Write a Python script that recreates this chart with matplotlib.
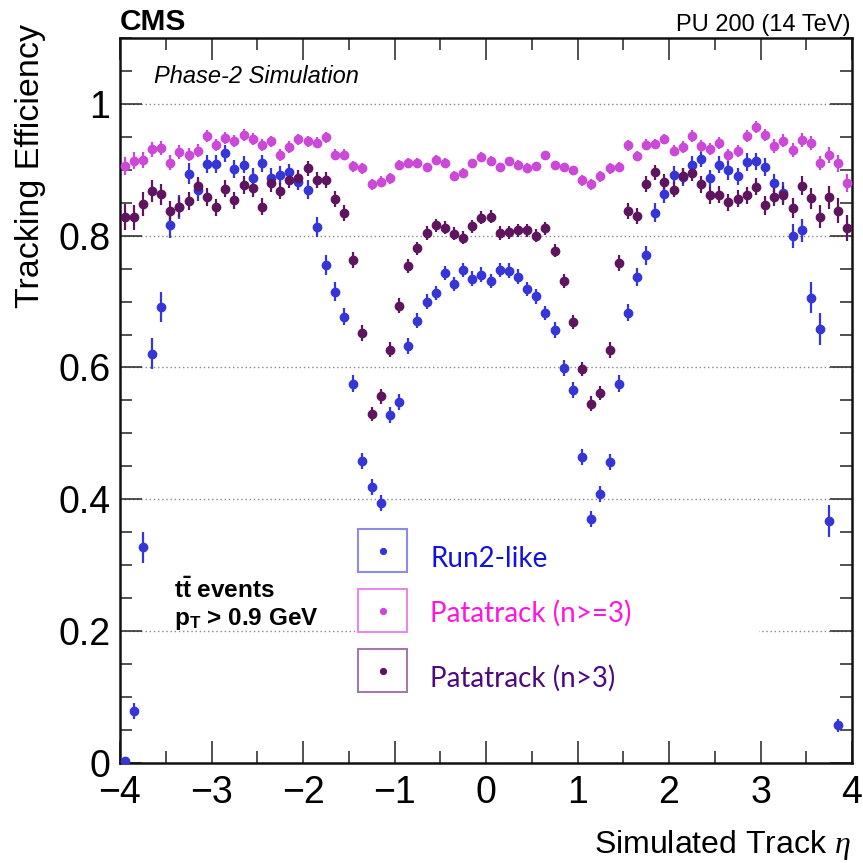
import numpy as np
import matplotlib
matplotlib.use("Agg")
import matplotlib.pyplot as plt
from matplotlib.patches import Rectangle
from matplotlib.ticker import MultipleLocator, FuncFormatter

plt.rcParams["font.family"] = ["Liberation Sans", "DejaVu Sans"]
plt.rcParams["mathtext.fontset"] = "custom"
plt.rcParams["mathtext.rm"] = "Liberation Sans"
plt.rcParams["mathtext.bf"] = "Liberation Sans:bold"
plt.rcParams["mathtext.it"] = "Liberation Serif:italic"

# eta binning: 80 bins of width 0.1 between -4 and 4
eta_edges = np.linspace(-4.0, 4.0, 81)
eta = 0.5 * (eta_edges[:-1] + eta_edges[1:])

series_names = ["Run2-like", "Patatrack (n>=3)", "Patatrack (n>3)"]

eff_run2 = [
    0.003, 0.079, 0.327, 0.621, 0.692, 0.816, 0.843, 0.894, 0.869, 0.909,
    0.909, 0.925, 0.901, 0.908, 0.888, 0.910, 0.888, 0.892, 0.896, 0.882,
    0.870, 0.813, 0.756, 0.715, 0.677, 0.575, 0.458, 0.418, 0.394, 0.528,
    0.548, 0.632, 0.671, 0.700, 0.713, 0.743, 0.727, 0.748, 0.735, 0.741,
    0.731, 0.748, 0.747, 0.738, 0.719, 0.708, 0.683, 0.657, 0.599, 0.566,
    0.464, 0.370, 0.408, 0.457, 0.575, 0.683, 0.737, 0.770, 0.835, 0.864,
    0.892, 0.889, 0.908, 0.917, 0.887, 0.908, 0.899, 0.890, 0.912, 0.913,
    0.904, 0.880, 0.865, 0.799, 0.808, 0.706, 0.658, 0.367, 0.057, np.nan,
]
err_run2 = [
    0.003, 0.012, 0.024, 0.023, 0.023, 0.020, 0.018, 0.016, 0.016, 0.014,
    0.014, 0.013, 0.014, 0.013, 0.014, 0.013, 0.014, 0.013, 0.013, 0.013,
    0.014, 0.015, 0.015, 0.014, 0.013, 0.013, 0.012, 0.012, 0.012, 0.012,
    0.012, 0.012, 0.011, 0.011, 0.011, 0.011, 0.011, 0.011, 0.011, 0.011,
    0.011, 0.011, 0.011, 0.011, 0.011, 0.011, 0.011, 0.012, 0.012, 0.012,
    0.012, 0.012, 0.012, 0.012, 0.013, 0.013, 0.014, 0.015, 0.015, 0.014,
    0.013, 0.013, 0.013, 0.013, 0.013, 0.013, 0.014, 0.013, 0.014, 0.013,
    0.014, 0.014, 0.016, 0.018, 0.018, 0.023, 0.024, 0.025, 0.010, 0.0,
]

eff_pata3 = [
    0.906, 0.914, 0.915, 0.931, 0.933, 0.911, 0.927, 0.923, 0.929, 0.951,
    0.937, 0.948, 0.944, 0.953, 0.947, 0.938, 0.943, 0.922, 0.934, 0.946,
    0.943, 0.941, 0.949, 0.923, 0.923, 0.905, 0.902, 0.878, 0.882, 0.887,
    0.908, 0.911, 0.911, 0.904, 0.915, 0.911, 0.891, 0.895, 0.910, 0.920,
    0.914, 0.904, 0.913, 0.908, 0.903, 0.905, 0.922, 0.907, 0.904, 0.899,
    0.884, 0.878, 0.890, 0.902, 0.904, 0.937, 0.921, 0.938, 0.939, 0.947,
    0.929, 0.935, 0.951, 0.936, 0.932, 0.941, 0.922, 0.929, 0.951, 0.965,
    0.953, 0.936, 0.944, 0.930, 0.945, 0.941, 0.910, 0.922, 0.910, 0.880,
]
err_pata3 = [
    0.014, 0.013, 0.012, 0.011, 0.011, 0.011, 0.010, 0.010, 0.010, 0.009,
    0.009, 0.009, 0.009, 0.009, 0.009, 0.009, 0.009, 0.009, 0.009, 0.008,
    0.008, 0.008, 0.008, 0.008, 0.008, 0.008, 0.008, 0.008, 0.008, 0.008,
    0.007, 0.007, 0.007, 0.007, 0.007, 0.007, 0.007, 0.007, 0.007, 0.007,
    0.007, 0.007, 0.007, 0.007, 0.007, 0.007, 0.007, 0.007, 0.007, 0.007,
    0.008, 0.008, 0.008, 0.008, 0.008, 0.008, 0.008, 0.008, 0.008, 0.008,
    0.008, 0.009, 0.009, 0.009, 0.009, 0.009, 0.009, 0.009, 0.009, 0.009,
    0.009, 0.010, 0.010, 0.010, 0.011, 0.011, 0.011, 0.012, 0.013, 0.014,
]

eff_pata4 = [
    0.828, 0.828, 0.848, 0.868, 0.863, 0.837, 0.843, 0.853, 0.875, 0.859,
    0.843, 0.871, 0.854, 0.877, 0.872, 0.844, 0.880, 0.868, 0.884, 0.888,
    0.902, 0.884, 0.884, 0.856, 0.834, 0.763, 0.652, 0.529, 0.556, 0.627,
    0.694, 0.754, 0.781, 0.804, 0.816, 0.812, 0.803, 0.797, 0.814, 0.827,
    0.829, 0.804, 0.805, 0.808, 0.808, 0.800, 0.811, 0.777, 0.731, 0.669,
    0.598, 0.545, 0.561, 0.627, 0.759, 0.838, 0.830, 0.879, 0.896, 0.882,
    0.870, 0.890, 0.895, 0.878, 0.861, 0.862, 0.851, 0.856, 0.861, 0.874,
    0.846, 0.859, 0.861, 0.842, 0.876, 0.857, 0.829, 0.858, 0.838, 0.812,
]
err_pata4 = [
    0.020, 0.019, 0.018, 0.017, 0.016, 0.015, 0.015, 0.014, 0.014, 0.014,
    0.013, 0.013, 0.013, 0.013, 0.013, 0.013, 0.013, 0.012, 0.012, 0.012,
    0.012, 0.012, 0.012, 0.012, 0.012, 0.012, 0.012, 0.011, 0.011, 0.011,
    0.011, 0.011, 0.010, 0.010, 0.010, 0.010, 0.010, 0.010, 0.010, 0.010,
    0.010, 0.010, 0.010, 0.010, 0.010, 0.010, 0.010, 0.010, 0.011, 0.011,
    0.011, 0.011, 0.011, 0.012, 0.012, 0.012, 0.012, 0.012, 0.012, 0.012,
    0.012, 0.012, 0.012, 0.013, 0.013, 0.013, 0.013, 0.013, 0.013, 0.013,
    0.014, 0.014, 0.014, 0.015, 0.015, 0.016, 0.017, 0.018, 0.019, 0.020,
]

marker_colors = ["#3535d8", "#cc48d8", "#5e145e"]
text_colors = ["#1212dd", "#ff14e0", "#4b0b7d"]
box_colors = ["#8c8ce8", "#e48ae8", "#a07aa8"]

W = H = 863
fig = plt.figure(figsize=(W / 100, H / 100), dpi=100)


def fx(px):
    return px / W


def fy(py):
    return 1 - py / H


ax = fig.add_axes([fx(120), fy(762.8), (852 - 120) / W, (762.8 - 38) / H])
ax.set_xlim(-4, 4)
ax.set_ylim(0, 1.1)

# data with vertical error bars
for eff, err, mc in [(eff_run2, err_run2, marker_colors[0]),
                     (eff_pata3, err_pata3, marker_colors[1]),
                     (eff_pata4, err_pata4, marker_colors[2])]:
    ax.errorbar(eta, eff, yerr=err, fmt="o", ms=6.0, color=mc,
                mec=mc, elinewidth=1.6, capsize=0, zorder=3)

# axes styling
for sp in ax.spines.values():
    sp.set_linewidth(1.8)
    sp.set_color("#111111")
ax.xaxis.set_major_locator(MultipleLocator(1))
ax.xaxis.set_minor_locator(MultipleLocator(0.5))
ax.yaxis.set_major_locator(MultipleLocator(0.2))
ax.yaxis.set_minor_locator(MultipleLocator(0.05))
ax.yaxis.set_major_formatter(FuncFormatter(lambda v, p: "%g" % round(v, 2)))
ax.xaxis.set_major_formatter(FuncFormatter(lambda v, p: ("%g" % v).replace("-", "\u2212")))
ax.tick_params(which="both", direction="in", top=True, right=True,
               width=1.1, color="#222222")
ax.tick_params(which="major", length=16, labelsize=27)
ax.tick_params(axis="y", which="major", pad=7)
ax.tick_params(axis="x", which="major", pad=9)
ax.tick_params(which="minor", length=8.5)
ax.yaxis.grid(True, which="major", linestyle=(0, (1, 2)), color="#888888",
              linewidth=1.0)
ax.set_axisbelow(True)

# top labels
fig.text(fx(120), fy(30), "CMS", fontsize=21.5, fontweight="bold",
         ha="left", va="baseline")
fig.text(fx(850), fy(31), "PU 200 (14 TeV)", fontsize=17, ha="right",
         va="baseline")
fig.text(fx(154), fy(83), "Phase-2 Simulation", fontsize=17,
         style="italic", ha="left", va="baseline")
fig.text(fx(174), fy(598), r"$\mathbf{t\bar{t}}$ events", fontsize=17.5,
         fontweight="bold", ha="left", va="baseline")
fig.text(fx(174), fy(625), r"$\mathbf{p_{T}}$ > 0.9 GeV", fontsize=17.5,
         fontweight="bold", ha="left", va="baseline")

# axis titles
fig.text(fx(30), fy(24), "Tracking Efficiency", fontsize=24.5, rotation=90,
         ha="center", va="top")
fig.text(fx(851), fy(853), r"Simulated Track $\eta$", fontsize=23,
         ha="right", va="baseline")

# legend: white pad, framed marker boxes and coloured labels
ax.add_patch(Rectangle((fx(355), fy(697)), fx(759) - fx(355), fy(524) - fy(697),
                       transform=fig.transFigure, facecolor="white",
                       edgecolor="none", zorder=1.8, clip_on=False))
row_top = [529, 589, 649]
baselines = [567, 622, 687]
for k, name in enumerate(series_names):
    y0 = row_top[k]
    ax.add_patch(Rectangle((fx(358), fy(y0 + 43)), fx(407) - fx(358),
                           fy(y0) - fy(y0 + 43), transform=fig.transFigure,
                           facecolor="none", edgecolor=box_colors[k],
                           linewidth=1.5, zorder=4, clip_on=False))
    ax.plot([fx(382.5)], [fy(y0 + 21.5)], "o", ms=4.2,
            color=marker_colors[k], transform=fig.transFigure,
            zorder=5, clip_on=False)
    fig.text(fx(430), fy(baselines[k]), name, fontsize=20, family="Lato",
             color=text_colors[k], ha="left", va="baseline")

fig.savefig("out.png", dpi=100)
